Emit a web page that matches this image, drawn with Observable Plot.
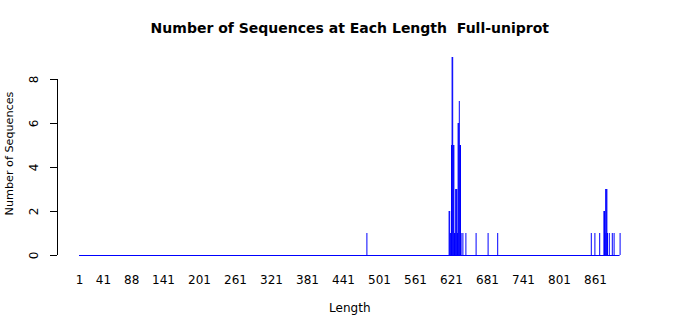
<!DOCTYPE html>
<html>
<head>
<meta charset="utf-8">
<script src="https://cdn.jsdelivr.net/npm/d3@7"></script>
<script src="https://cdn.jsdelivr.net/npm/@observablehq/plot@0.6"></script>
<style>
  html, body { margin: 0; padding: 0; background: white; }
</style>
</head>
<body>
<div id="chart"></div>
<script>
// Sequence lengths that occur and how many sequences have each length
const lengths = [480,
  617, 618, 619, 620, 621, 622, 623, 624, 625, 626, 627, 628, 629, 630, 631, 632, 633, 634, 635, 636, 637,
  640, 645, 662, 682, 698,
  854, 860, 868, 875, 876, 877, 878, 879, 880, 881, 884, 889, 892, 902];
const counts = [1,
  2, 2, 1, 1, 5, 9, 9, 5, 5, 1, 1, 3, 3, 3, 1, 6, 6, 7, 5, 5, 1,
  1, 1, 1, 1, 1,
  1, 1, 1, 2, 2, 1, 3, 3, 3, 1, 1, 1, 1, 1];
// full range of lengths in the table (all others have zero sequences)
const lengthRange = [1, 902];
const xTicks = [1, 41, 88, 141, 201, 261, 321, 381, 441, 501, 561, 621, 681, 741, 801, 861];
const yTicks = [0, 2, 4, 6, 8];

const title = "Number of Sequences at Each Length\u00a0 Full-uniprot";
const xLabel = "Length";
const yLabel = "Number of Sequences";

const data = lengths.map((l, i) => ({length: l, count: counts[i]}));

const chart = Plot.plot({
  width: 700,
  height: 315,
  marginLeft: 79,
  marginRight: 80.4,
  marginTop: 57,
  marginBottom: 60,
  style: {fontFamily: "DejaVu Sans", fontSize: "12px", background: "white", color: "black", overflow: "visible"},
  x: {domain: lengthRange},
  y: {domain: [0, 9]},
  marks: [
    Plot.ruleY([0], {x1: lengthRange[0], x2: lengthRange[1], stroke: "blue", strokeWidth: 1}),
    Plot.ruleX(data, {x: "length", y1: 0, y2: "count", stroke: "blue", strokeWidth: 1}),
    Plot.axisX({ticks: xTicks, tickSize: 0, tickPadding: 20, label: null, tickFormat: d => String(d), fontSize: 12}),
    Plot.axisY({ticks: yTicks, tickSize: 7, dx: -22, tickRotate: -90, tickPadding: 13, label: null, tickFormat: d => String(d), fontSize: 12}),
    Plot.ruleX([lengthRange[0]], {y1: 0, y2: d3.max(yTicks), dx: -22, stroke: "black"}),
    Plot.text([title], {frameAnchor: "top", dy: -28.5, lineAnchor: "middle", fontWeight: "bold", fontSize: 14, fill: "black"}),
    Plot.text([xLabel], {frameAnchor: "bottom", dy: 52.5, lineAnchor: "middle", fontSize: 12, fill: "black"}),
    Plot.text([yLabel], {frameAnchor: "left", dx: -70, dy: -3, rotate: -90, textAnchor: "middle", lineAnchor: "middle", fontSize: 11.2, fill: "black"})
  ]
});
document.getElementById("chart").appendChild(chart);
</script>
</body>
</html>
